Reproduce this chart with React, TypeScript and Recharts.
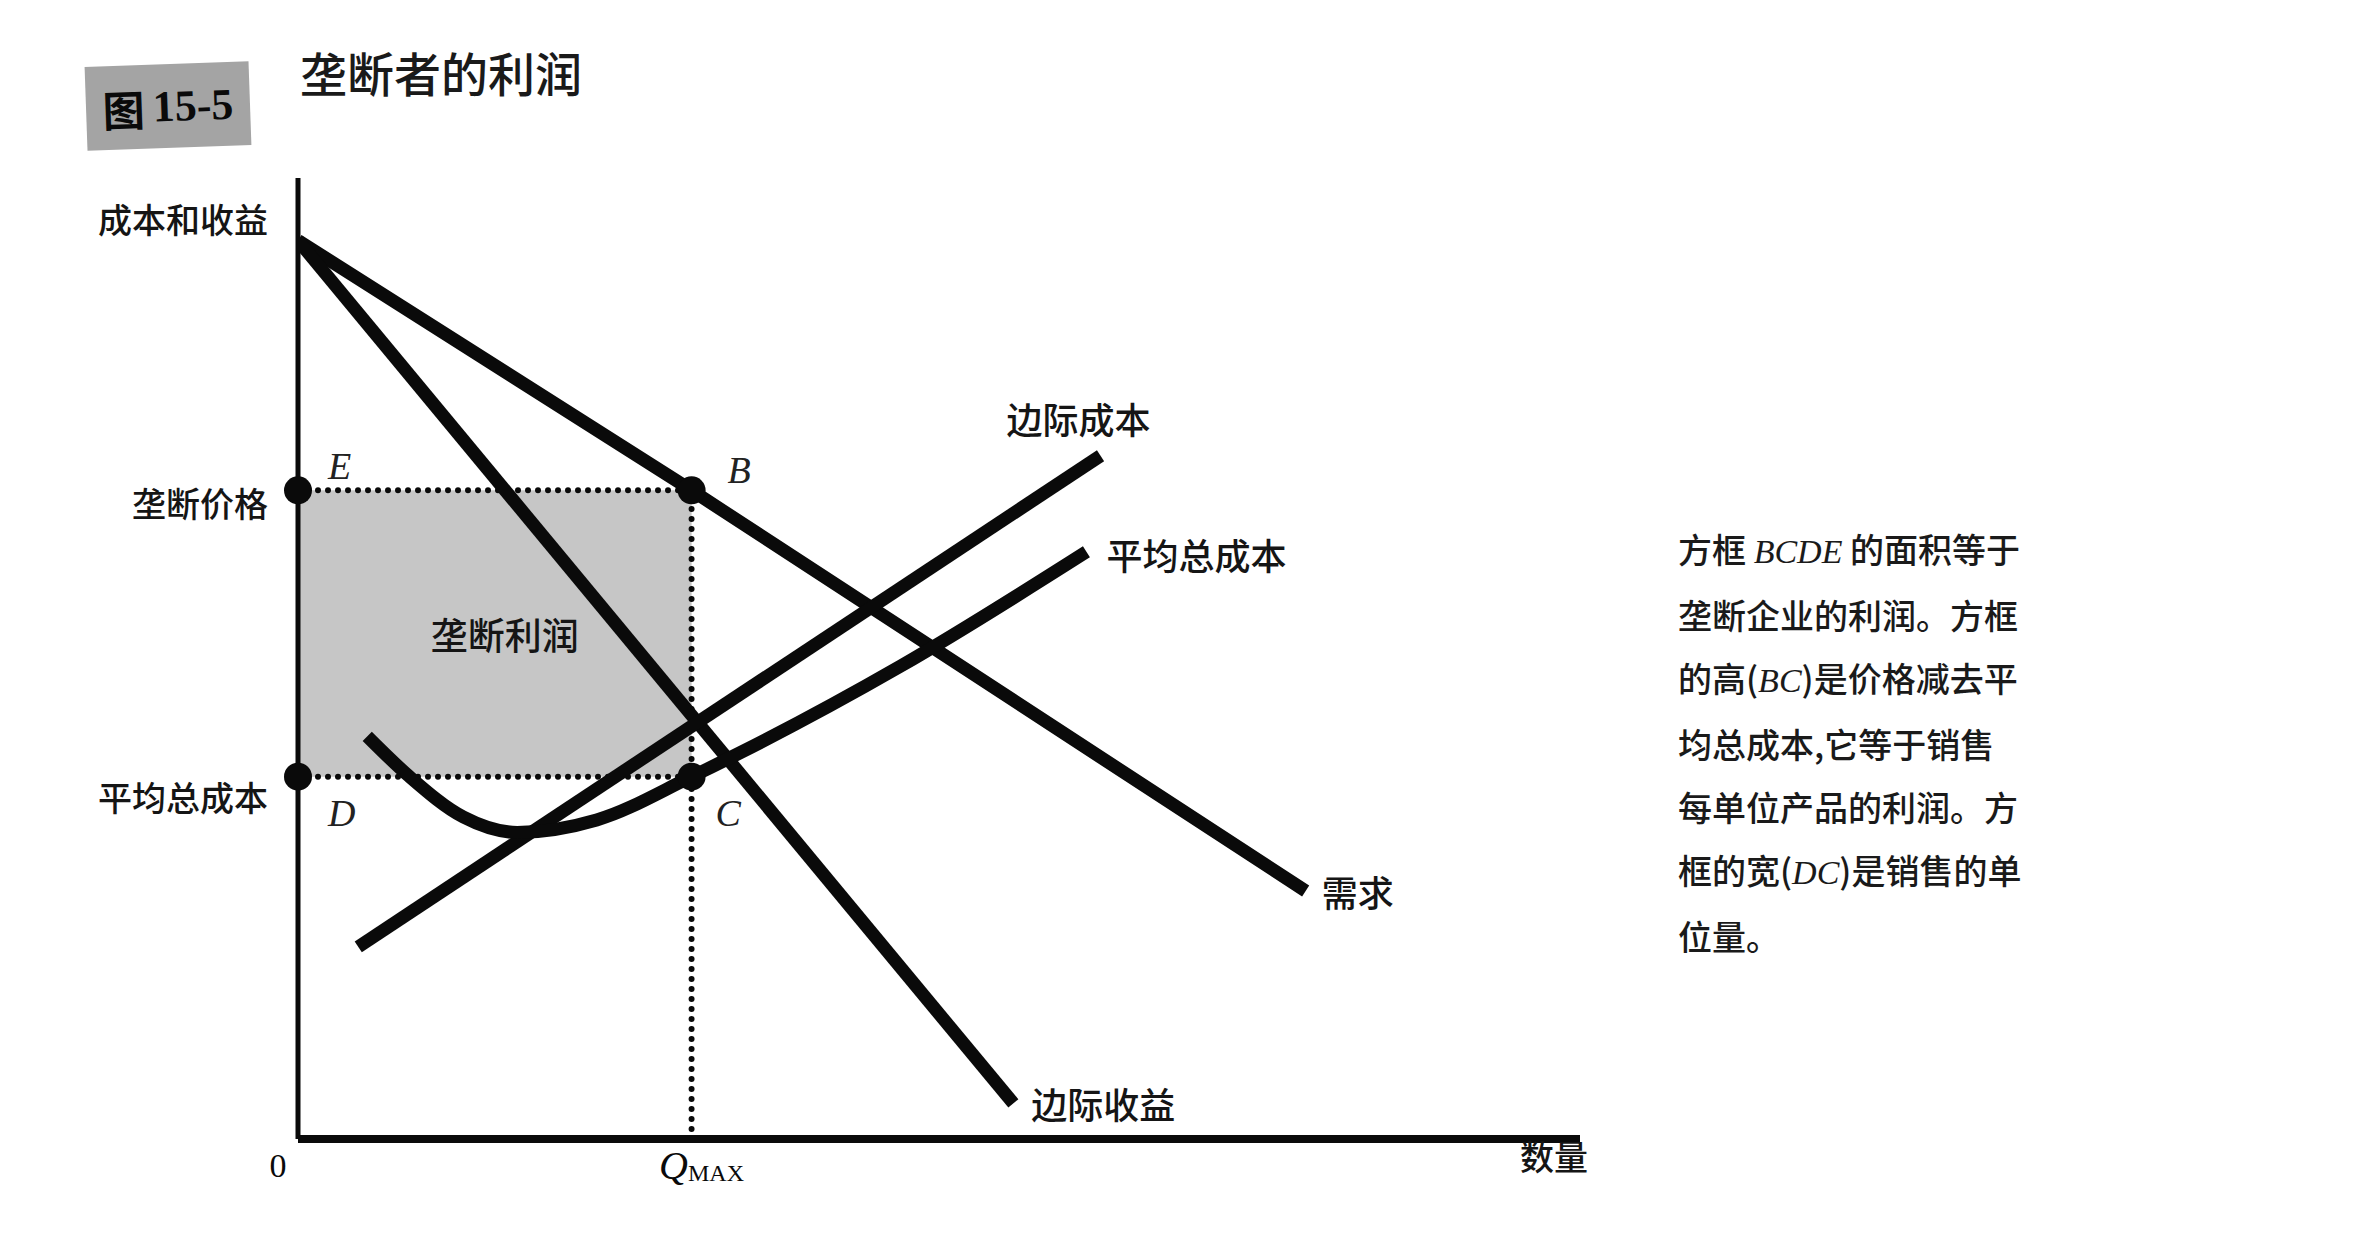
import React from 'react';
import { ComposedChart, Line, XAxis, YAxis, ReferenceArea, ReferenceLine, ReferenceDot } from 'recharts';

// quantity / price readings taken off the figure (arbitrary units, 0-100)
const demandQ = [0, 30.7, 78.6];
const demandP = [93.5, 67.5, 25.8];
const mrQ = [0, 55.8];
const mrP = [93.5, 3.7];
const mcQ = [4.7, 62.6];
const mcP = [20.0, 71.1];
const atcQ = [5.4, 8.7, 12.9, 17.1, 23.3, 30.7, 34.5, 47.0, 61.5];
const atcP = [41.9, 37.7, 33.5, 31.9, 33.2, 37.7, 40.2, 49.2, 61.1];

const qMax = 30.7;
const monopolyPrice = 67.5;
const avgTotalCost = 37.7;

const noteLines = [
    ['方框 ', 'BCDE', ' 的面积等于'],
    ['垄断企业的利润。方框'],
    ['的高(', 'BC', ')是价格减去平'],
    ['均总成本,它等于销售'],
    ['每单位产品的利润。方'],
    ['框的宽(', 'DC', ')是销售的单'],
    ['位量。'],
];

const CJK = '"Noto Sans CJK SC", "Noto Sans", sans-serif';
const SERIF = '"Liberation Serif", "DejaVu Serif", serif';
const INK = '#0a0a0a';

const toPoints = (qs: number[], ps: number[]) => qs.map((q, i) => ({ q, p: ps[i] }));

const tag = (text: string, dx: number, dy: number, extra: any = {}) => (props: any) => {
    const vb = props.viewBox || {};
    const x = (vb.x ?? 0) + (vb.width ?? 0) / 2 + dx;
    const y = (vb.y ?? 0) + (vb.height ?? 0) / 2 + dy;
    return (
        <text x={x} y={y} dominantBaseline="central" fill="#151515" fontFamily={CJK} fontSize={36} fontWeight={500} {...extra}>
            {text}
        </text>
    );
};

const letter = (text: string, dx: number, dy: number) =>
    tag(text, dx, dy, { fontFamily: SERIF, fontStyle: 'italic', fontWeight: 400, fontSize: 38, fill: '#222' });

const XTick = (props: any) => {
    const { x, y, payload } = props;
    if (payload.value === 0) {
        return (
            <text x={x - 20} y={y + 18} textAnchor="middle" dominantBaseline="central" fontFamily={SERIF} fontSize={34} fill={INK}>
                0
            </text>
        );
    }
    return (
        <text x={x + 10} y={y + 18} textAnchor="middle" dominantBaseline="central" fontFamily={SERIF} fill={INK}>
            <tspan fontSize={40} fontStyle="italic">Q</tspan>
            <tspan fontSize={24} dy={8}>MAX</tspan>
        </text>
    );
};

const YTick = (props: any) => {
    const { x, y, payload } = props;
    const text = payload.value === monopolyPrice ? '垄断价格' : '平均总成本';
    const dy = payload.value === monopolyPrice ? 12 : 20;
    return (
        <text x={x - 22} y={y + dy} textAnchor="end" dominantBaseline="central" fontFamily={CJK} fontSize={34} fontWeight={500} fill="#151515">
            {text}
        </text>
    );
};

const dotted = { stroke: INK, strokeWidth: 6, strokeDasharray: '0 10', strokeLinecap: 'round' as const };

export default function App() {
    return (
        <div style={{ position: 'absolute', left: 0, top: 0, width: 2360, height: 1252, background: '#fff', overflow: 'hidden' }}>
            <div
                style={{
                    position: 'absolute', left: 86, top: 64, width: 164, height: 84, background: '#a4a4a4',
                    transform: 'rotate(-2deg)', display: 'flex', alignItems: 'center', justifyContent: 'center',
                }}
            >
                <span style={{ fontFamily: CJK, fontWeight: 700, fontSize: 42, color: INK }}>图</span>
                <span style={{ fontFamily: SERIF, fontWeight: 700, fontSize: 44, color: INK, marginLeft: 8 }}>15-5</span>
            </div>
            <div style={{ position: 'absolute', left: 300, top: 40, fontFamily: CJK, fontSize: 47, fontWeight: 500, color: '#1a1a1a', lineHeight: '64px' }}>
                垄断者的利润
            </div>

            <ComposedChart width={2360} height={1252} margin={{ top: 178, left: 198, right: 780, bottom: 53 }}>
                <XAxis
                    type="number" dataKey="q" domain={[0, 100]} ticks={[0, qMax]} tick={<XTick />}
                    tickLine={false} height={60} axisLine={{ stroke: INK, strokeWidth: 8 }} allowDataOverflow
                />
                <YAxis
                    type="number" dataKey="p" domain={[0, 100]} ticks={[monopolyPrice, avgTotalCost]} tick={<YTick />}
                    tickLine={false} width={100} axisLine={{ stroke: INK, strokeWidth: 5 }} allowDataOverflow
                />
                <ReferenceArea x1={0} x2={qMax} y1={avgTotalCost} y2={monopolyPrice} fill="#c6c6c6" fillOpacity={1} stroke="none"
                    label={tag('垄断利润', 10, 0, { textAnchor: 'middle', fontSize: 37 })} />
                <ReferenceLine segment={[{ x: 0, y: monopolyPrice }, { x: qMax, y: monopolyPrice }]} {...dotted} />
                <ReferenceLine segment={[{ x: 0, y: avgTotalCost }, { x: qMax, y: avgTotalCost }]} {...dotted} />
                <ReferenceLine segment={[{ x: qMax, y: 0 }, { x: qMax, y: monopolyPrice }]} {...dotted} />

                <Line data={toPoints(demandQ, demandP)} dataKey="p" stroke={INK} strokeWidth={13} dot={false} activeDot={false} isAnimationActive={false} type="linear" />
                <Line data={toPoints(mrQ, mrP)} dataKey="p" stroke={INK} strokeWidth={13} dot={false} activeDot={false} isAnimationActive={false} type="linear" />
                <Line data={toPoints(mcQ, mcP)} dataKey="p" stroke={INK} strokeWidth={13} dot={false} activeDot={false} isAnimationActive={false} type="linear" />
                <Line data={toPoints(atcQ, atcP)} dataKey="p" stroke={INK} strokeWidth={13} dot={false} activeDot={false} isAnimationActive={false} type="monotone" />

                <ReferenceDot x={0} y={monopolyPrice} r={14} fill={INK} stroke="none" label={letter('E', 30, -24)} />
                <ReferenceDot x={qMax} y={monopolyPrice} r={14} fill={INK} stroke="none" label={letter('B', 36, -20)} />
                <ReferenceDot x={0} y={avgTotalCost} r={14} fill={INK} stroke="none" label={letter('D', 30, 36)} />
                <ReferenceDot x={qMax} y={avgTotalCost} r={14} fill={INK} stroke="none" label={letter('C', 24, 36)} />

                <ReferenceDot x={demandQ[demandQ.length - 1]} y={demandP[demandP.length - 1]} r={0} label={tag('需求', 16, 0)} />
                <ReferenceDot x={mrQ[mrQ.length - 1]} y={mrP[mrP.length - 1]} r={0} label={tag('边际收益', 18, 0)} />
                <ReferenceDot x={mcQ[mcQ.length - 1]} y={mcP[mcP.length - 1]} r={0} label={tag('边际成本', -22, -38, { textAnchor: 'middle' })} />
                <ReferenceDot x={atcQ[atcQ.length - 1]} y={atcP[atcP.length - 1]} r={0} label={tag('平均总成本', 20, 2)} />
                <ReferenceDot x={0} y={100} r={0} label={tag('成本和收益', -30, 40, { textAnchor: 'end', fontSize: 34 })} />
                <ReferenceDot x={100} y={0} r={0} label={tag('数量', 8, 16, { textAnchor: 'end', fontSize: 34 })} />
            </ComposedChart>

            <div style={{ position: 'absolute', left: 1678, top: 517, fontFamily: CJK, fontSize: 34, fontWeight: 500, lineHeight: '63px', color: '#1a1a1a', whiteSpace: 'pre' }}>
                {noteLines.map((parts, i) => (
                    <div key={i}>
                        {parts.map((s, j) =>
                            /^[A-Z]+$/.test(s) ? (
                                <span key={j} style={{ fontFamily: SERIF, fontStyle: 'italic' }}>{s}</span>
                            ) : (
                                <span key={j}>{s}</span>
                            )
                        )}
                    </div>
                ))}
            </div>
        </div>
    );
}
